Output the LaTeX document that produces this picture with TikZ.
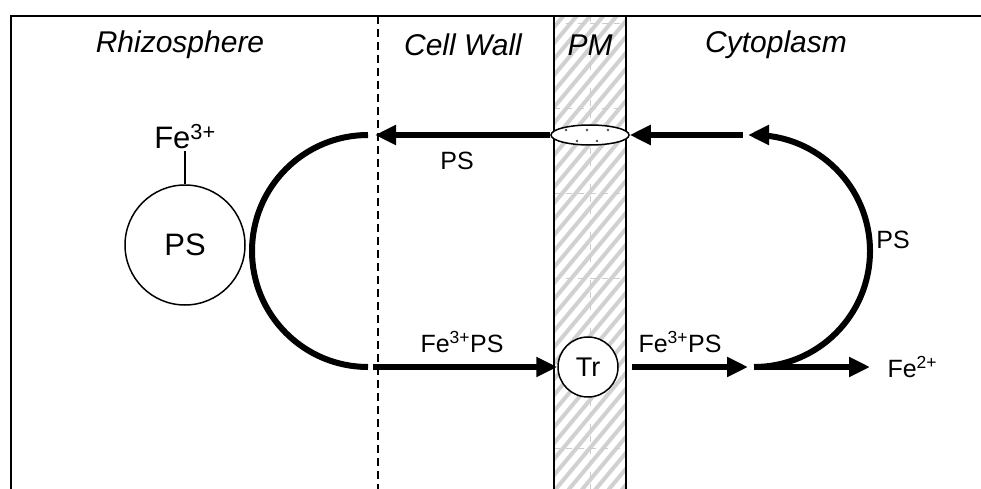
\documentclass[tikz,border=0pt]{standalone}
\usepackage{fontspec}
\setmainfont{Liberation Sans}
\usetikzlibrary{arrows.meta,shapes.geometric}
\begin{document}
\begin{tikzpicture}[x=1pt,y=-1pt,
  flow/.style={line width=6pt},
  arr/.style={flow,-{Triangle[length=21pt,width=19pt]}},
  title/.style={font=\fontsize{30}{34}\selectfont\itshape},
  lab/.style={font=\fontsize{25}{28}\selectfont},
  big/.style={font=\fontsize{31}{34}\selectfont},
  thin/.style={line width=1.5pt}]
\useasboundingbox (0,0) rectangle (981,489);
% membrane hatching
\begin{scope}
  \clip (554,16) rectangle (626,489);
  \foreach \i in {-20,-4,...,640} \draw[black!18,line width=4pt] (540,\i) -- ++(100,-120);
  \draw[black!20,line width=0.5pt,dash pattern=on 6pt off 6pt] (590,16) -- (590,489);
  \foreach \yy in {23,108,193,278,363,448}
    \draw[black!20,line width=0.5pt,dash pattern=on 6pt off 6pt] (554,\yy) -- (626,\yy);
\end{scope}
\draw[thin] (554,16) -- (554,489);
\draw[thin] (626,16) -- (626,489);
% frame
\draw[line width=2pt] (11,489) -- (11,16) -- (981,16);
\draw[line width=1.3pt,dash pattern=on 8pt off 5pt] (378,16) -- (378,489);
% titles
\node[title] (t1) at (180,45) {Rhizosphere};
\node[title] (t2) at (463,45) {Cell Wall};
\node[title] (t3) at (590,45) {PM};
\node[title] (t4) at (776,45) {Cytoplasm};
% siderophore complex
\node[big,draw,circle,thin,minimum size=120pt,inner sep=0pt] (ps) at (185,245) {PS};
\node[big,inner sep=2pt] (fe3) at (185,137) {Fe\textsuperscript{3+}};
\draw[line width=1.2pt] (fe3.south) -- (ps.north);
% membrane proteins
\node[draw,ellipse,thin,fill=white,minimum width=78pt,minimum height=20pt,inner sep=0pt] (ell) at (590,135) {};
\foreach \p in {(566,130),(587,130),(608,130),(577,141),(597,141)}
  \fill[black!70] \p circle (1.3pt);
\node[lab,font=\fontsize{27}{30}\selectfont,draw,circle,thin,fill=white,minimum size=60pt,inner sep=0pt] (tr) at (588,367) {Tr};
% coordinates
\coordinate (lt) at (368,135);
\coordinate (cwTop) at (375,135);
\coordinate (cwBot) at (373,367);
\coordinate (cyTop) at (743,135);
\coordinate (cyTip) at (748,135);
\coordinate (trOut) at (632,367);
\coordinate (cyIn) at (748,367);
\coordinate (rb) at (754,367);
\coordinate (rbs) at (757,367);
\coordinate (fe2tip) at (870,367);
% connectors
\draw[flow] (lt) arc[start angle=270,end angle=90,radius=116];
\draw[arr] (ell.west) -- (cwTop);
\draw[arr] (cyTop) -- (ell.east);
\draw[arr] (cwBot) -- (tr.west);
\draw[arr] (trOut) -- (cyIn);
\draw[arr] (rb) arc[start angle=90,end angle=-90,radius=116] -- (cyTip);
\draw[arr] (rbs) -- (fe2tip);
% labels
\node[lab] (l1) at (457,161) {PS};
\node[lab] (l2) at (462,342) {Fe\textsuperscript{3+}PS};
\node[lab] (l3) at (680,342) {Fe\textsuperscript{3+}PS};
\node[lab] (l4) at (893,240) {PS};
\node[lab,anchor=west] (l5) at (884,367) {Fe\textsuperscript{2+}};
\end{tikzpicture}
\end{document}
